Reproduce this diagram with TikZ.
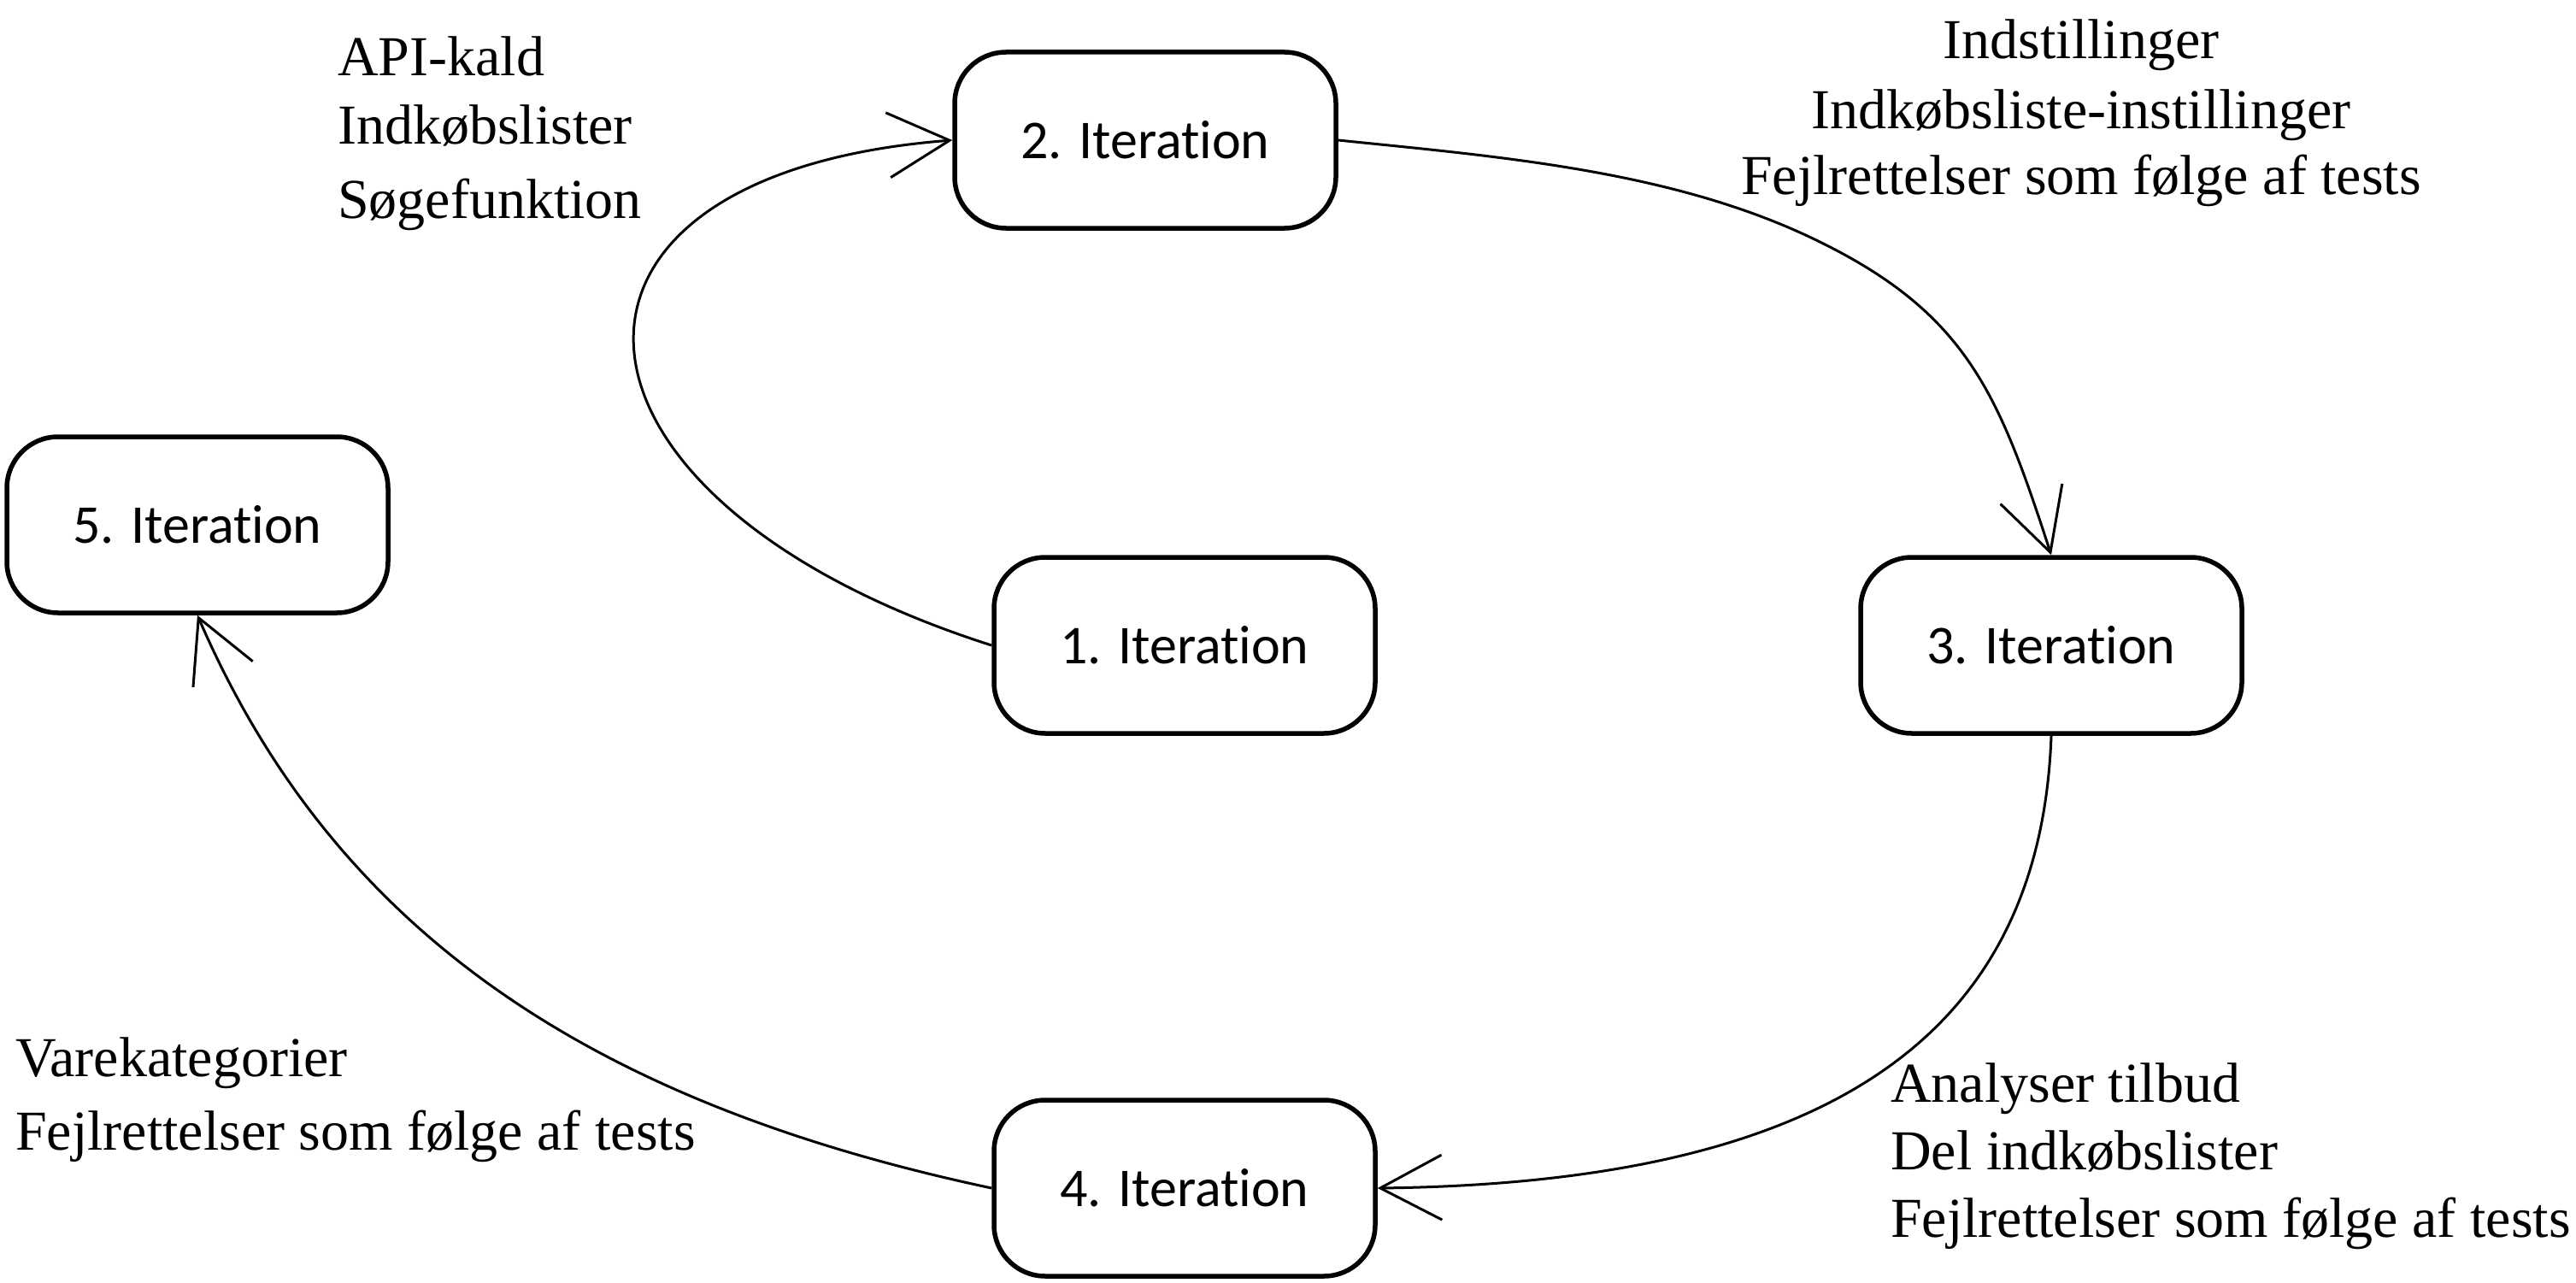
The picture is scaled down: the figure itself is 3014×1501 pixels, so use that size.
\documentclass[tikz,border=0pt]{standalone}
\usepackage{fontspec}
\setmainfont{Liberation Serif}
\newfontfamily\carl[Ligatures=NoCommon,RawFeature={-liga;-dlig;-clig}]{Carlito}
\usetikzlibrary{arrows.meta}
\tikzset{
  iter/.style={draw, line width=5.5pt, rounded corners=60pt, minimum width=446pt,
    minimum height=206pt, inner sep=0pt, font=\carl\fontsize{64}{77}\selectfont},
  conn/.style={line width=3pt, -{Straight Barb[length=72pt,width=76pt]}},
  lbl/.style={inner sep=0pt, font=\fontsize{66}{80}\selectfont}
}
\begin{document}
\begin{tikzpicture}[x=1pt,y=-1pt]
\useasboundingbox (0,0) rectangle (3014,1501);
\node[iter] (n1) at (1386,755) {1. Iteration};
\node[iter] (n2) at (1340,164) {2. Iteration};
\node[iter] (n3) at (2400,755) {3. Iteration};
\node[iter] (n4) at (1386,1390) {4. Iteration};
\node[iter] (n5) at (231,614) {5. Iteration};
\coordinate (m23) at (2121,279);

\draw[conn] (n1.west) .. controls +(-533,-170) and +(-520,40) .. (n2.west);
\draw[conn] (n2.east) .. controls +(185,19) and +(-167,-80) .. (m23)
  .. controls +(180,86) and +(-62,-190) .. (n3.north);
\draw[conn] (n3.south) .. controls +(-13,358) and +(519,-6) .. (n4.east);
\draw[conn] (n4.west) .. controls +(-470,-100) and +(160,370) .. (n5.south);

\node[lbl, anchor=base west] (a1) at (395,89) {API-kald};
\node[lbl, anchor=base west] (a2) at (395,168) {Indkøbslister};
\node[lbl, anchor=base west] (a3) at (395,255) {Søgefunktion};

\node[lbl, anchor=base] (b1) at (2435,69) {Indstillinger};
\node[lbl, anchor=base] (b2) at (2435,150) {Indkøbsliste-instillinger};
\node[lbl, anchor=base] (b3) at (2435,227) {Fejlrettelser som følge af tests};

\node[lbl, anchor=base west] (c1) at (2212,1289) {Analyser tilbud};
\node[lbl, anchor=base west] (c2) at (2212,1368) {Del indkøbslister};
\node[lbl, anchor=base west] (c3) at (2212,1447) {Fejlrettelser som følge af tests};

\node[lbl, anchor=base west] (d1) at (18,1259) {Varekategorier};
\node[lbl, anchor=base west] (d2) at (18,1345) {Fejlrettelser som følge af tests};
\end{tikzpicture}
\end{document}
